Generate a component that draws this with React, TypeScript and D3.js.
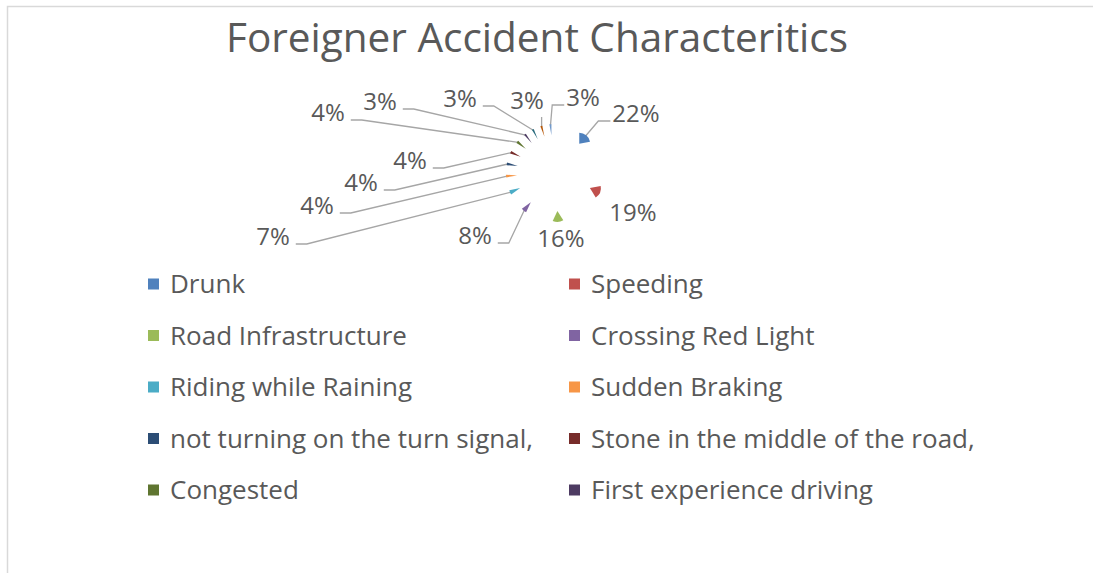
import { useEffect, useRef } from "react"
import * as d3 from "d3"

const categories = [
  "Drunk",
  "Speeding",
  "Road Infrastructure",
  "Crossing Red Light",
  "Riding while Raining",
  "Sudden Braking",
  "not turning on the turn signal,",
  "Stone in the middle of the road,",
  "Congested",
  "First experience driving",
  "Other (11)",
  "Other (12)",
  "Other (13)"
]
const shares = [22, 19, 16, 8, 7, 4, 4, 4, 4, 3, 3, 3, 3]
const sliceColors = [
  "#4F81BD", "#C0504D", "#9BBB59", "#8064A2", "#4BACC6", "#F79646",
  "#2C4D75", "#772C2A", "#5F7530", "#4D3B62", "#276A7C", "#B65708", "#729ACA"
]
// the labels were dragged by hand in the workbook: offset from pie centre to label (centre x, baseline y)
const labelOffsets: [number, number][] = [
  [81, -51], [78, 48], [6, 74], [-80, 71], [-282, 72], [-238, 41], [-194, 18],
  [-145, -4], [-227, -52], [-175, -63], [-95, -66], [-28, -64], [28, -67]
]
const leaderSides = [
  "left", "none", "none", "right", "right", "right", "right",
  "right", "right", "right", "right", "bottom", "left"
]
const legendVisible = 10

const TEXT = "#595959"
const FONT = "'Open Sans', sans-serif"

export default function App() {
  const svgRef = useRef<SVGSVGElement>(null)

  useEffect(() => {
    if (!svgRef.current) return
    const svg = d3.select(svgRef.current)
    svg.selectAll("*").remove()

    const width = 1093
    const height = 573
    const cx = 555
    const cy = 173
    const explode = 38
    const radius = 11

    svg.attr("width", width).attr("height", height)

    svg.append("rect").attr("width", width).attr("height", height).attr("fill", "#fff")

    // chart area frame (clipped on the right and bottom)
    svg.append("path")
      .attr("d", `M7.5,${height} V6.5 H${width}`)
      .attr("fill", "none")
      .attr("stroke", "#d9d9d9")
      .attr("stroke-width", 1.5)

    svg.append("text")
      .attr("x", 537)
      .attr("y", 52)
      .attr("text-anchor", "middle")
      .style("font-family", FONT)
      .style("font-size", "40.5px")
      .style("fill", TEXT)
      .text("Foreigner Accident Characteritics")

    const pie = d3.pie<number>().sort(null).value(d => d)
    const arcs = pie(shares)
    const arc = d3.arc<d3.PieArcDatum<number>>().innerRadius(0).outerRadius(radius)
    const dir = (a: number) => [Math.sin(a), -Math.cos(a)]

    const g = svg.append("g").attr("transform", `translate(${cx},${cy})`)

    // leader lines + labels first, slices drawn on top
    const labels = g.append("g")
    arcs.forEach((a, i) => {
      const mid = (a.startAngle + a.endAngle) / 2
      const [ux, uy] = dir(mid)
      const [lx, ly] = labelOffsets[i]
      const t = labels.append("text")
        .attr("x", lx)
        .attr("y", ly)
        .attr("text-anchor", "middle")
        .style("font-family", FONT)
        .style("font-size", "24px")
        .style("fill", TEXT)
        .text(`${shares[i]}%`)
      const w = (t.node() as SVGTextElement).getComputedTextLength()
      const px = ux * (explode + radius - 1)
      const py = uy * (explode + radius - 1)
      const side = leaderSides[i]
      let pts: [number, number][] = []
      if (side === "right") {
        const x0 = lx + w / 2 + 6
        pts = [[x0, ly - 1], [x0 + 11, ly - 1], [px, py]]
      } else if (side === "left") {
        const x0 = lx - w / 2 - 2
        pts = [[x0, ly - 1], [x0 - 12, ly - 1], [px, py]]
      } else if (side === "bottom") {
        pts = [[px, ly + 8], [px, py]]
      }
      if (pts.length) {
        labels.insert("path", "text")
          .attr("d", d3.line()(pts))
          .attr("fill", "none")
          .attr("stroke", "#a6a6a6")
          .attr("stroke-width", 1.3)
      }
    })

    g.selectAll("path.slice")
      .data(arcs)
      .join("path")
      .attr("class", "slice")
      .attr("transform", a => {
        const [ux, uy] = dir((a.startAngle + a.endAngle) / 2)
        return `translate(${ux * explode},${uy * explode})`
      })
      .attr("d", arc)
      .attr("fill", (_, i) => sliceColors[i])

    // legend: two columns, overflowed items are cut off like in the source
    const colX = [148, 569]
    const rowY = d3.scaleLinear().domain([0, 1]).range([293, 344.5])
    const legend = svg.append("g")
    categories.slice(0, legendVisible).forEach((name, i) => {
      const x = colX[i % 2]
      const y = rowY(Math.floor(i / 2))
      legend.append("rect")
        .attr("x", x)
        .attr("y", y - 14.5)
        .attr("width", 11)
        .attr("height", 11)
        .attr("fill", sliceColors[i])
      legend.append("text")
        .attr("x", x + 22)
        .attr("y", y)
        .style("font-family", FONT)
        .style("font-size", "26px")
        .style("fill", TEXT)
        .text(name)
    })
  }, [])

  return (
    <svg ref={svgRef} style={{ position: "absolute", left: 0, top: 0, display: "block" }} />
  )
}
